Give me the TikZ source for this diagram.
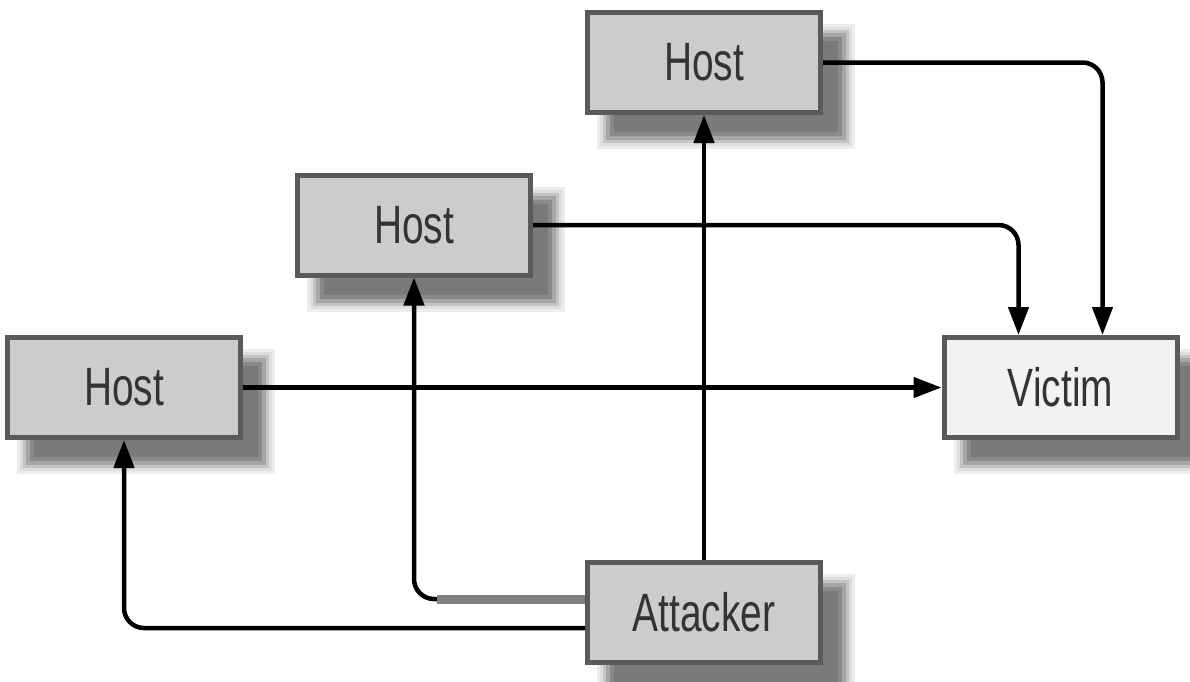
\documentclass[tikz,border=0pt]{standalone}
\usepackage{fontspec}
\newfontfamily\boxfont[FakeStretch=0.72]{Liberation Sans}
\usetikzlibrary{arrows.meta,backgrounds}
\definecolor{boxline}{HTML}{5A5A5A}
\definecolor{hostfill}{HTML}{CCCCCC}
\definecolor{victimfill}{HTML}{F2F2F2}
\begin{document}
\begin{tikzpicture}[x=1pt,y=-1pt,
  box/.style={rectangle, draw=boxline, line width=5pt, minimum width=233pt,
    minimum height=100pt, inner sep=0pt, fill=hostfill, text=black!80,
    font=\boxfont\fontsize{54}{60}\selectfont},
  conn/.style={line width=4.5pt, -{Triangle[length=28pt,width=20pt]}, rounded corners=20pt},
  grayseg/.style={line width=9pt, black!50}]
\useasboundingbox (0,0) rectangle (1190,681);
\node[box] (tophost) at (704,62.5) {Host};
\node[box] (midhost) at (414,225) {Host};
\node[box] (lefthost) at (124,387.5) {Host};
\node[box, fill=victimfill] (victim) at (1060.5,387.5) {Victim};
\node[box] (attacker) at (704,612.5) {Attacker};
\begin{scope}[on background layer]
  \foreach \n in {tophost,midhost,lefthost,victim,attacker}{
    \foreach \lx/\ly/\hx/\hy/\p in {12/14/32/34/7, 15/17/29/31/13, 18/20/26/28/23, 21/23/23/25/35, 25/27/19/21/46, 29/31/15/17/52}{
      \fill[black!\p] ([shift={(\lx,\ly)}]\n.north west) rectangle ([shift={(\hx,\hy)}]\n.south east);
    }
  }
\end{scope}
\draw[conn] (tophost.east) -| ([xshift=161pt]victim.north west);
\draw[conn] (midhost.east) -| ([xshift=77pt]victim.north west);
\draw[conn] (lefthost.east) -- (victim.west);
\draw[conn] (attacker.north) -- (tophost.south);
\draw[conn] ([yshift=13.5pt]attacker.west) -| (midhost.south);
\draw[conn] ([yshift=-15.5pt]attacker.west) -| (lefthost.south);
\draw[grayseg] ([yshift=13.5pt]attacker.west) -- ([yshift=13.5pt,xshift=-148pt]attacker.west);
\end{tikzpicture}
\end{document}
